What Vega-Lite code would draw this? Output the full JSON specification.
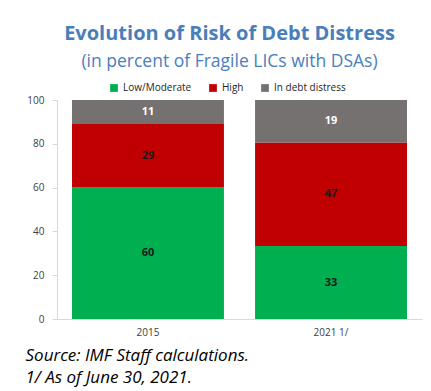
{
  "$schema": "https://vega.github.io/schema/vega-lite/v6.json",
  "autosize": {"type": "none"},
  "width": 365,
  "height": 219,
  "padding": {"left": 57, "top": 100, "right": 9, "bottom": 72},
  "background": "white",
  "title": {
    "text": "Evolution of Risk of Debt Distress",
    "subtitle": "(in percent of Fragile LICs with DSAs)",
    "anchor": "middle",
    "frame": "group",
    "dx": -10,
    "font": "Open Sans",
    "fontSize": 20,
    "fontWeight": "bold",
    "color": "#4a7ebb",
    "subtitleFont": "Open Sans",
    "subtitleFontSize": 17.5,
    "subtitleColor": "#4a7ebb",
    "subtitlePadding": 9,
    "offset": 13
  },
  "data": {
    "values": [
      {"year": "2015", "risk": "Low/Moderate", "rank": 1, "value": 60},
      {"year": "2015", "risk": "High", "rank": 2, "value": 29},
      {"year": "2015", "risk": "In debt distress", "rank": 3, "value": 11},
      {"year": "2021 1/", "risk": "Low/Moderate", "rank": 1, "value": 33.3},
      {"year": "2021 1/", "risk": "High", "rank": 2, "value": 47.3},
      {"year": "2021 1/", "risk": "In debt distress", "rank": 3, "value": 19.4}
    ]
  },
  "encoding": {
    "x": {
      "field": "year",
      "type": "nominal",
      "scale": {"paddingInner": 0.17, "paddingOuter": 0.082},
      "axis": {
        "labelAngle": 0,
        "labelFont": "Open Sans",
        "labelFontSize": 10,
        "labelColor": "#404040",
        "labelPadding": 8,
        "ticks": false,
        "domainColor": "#d9d9d9",
        "title": ["Source: IMF Staff calculations.", "1/ As of June 30, 2021."],
        "titleFont": "Open Sans",
        "titleFontSize": 17,
        "titleFontStyle": "italic",
        "titleFontWeight": "normal",
        "titleColor": "#000000",
        "titleAnchor": "start",
        "titleAlign": "left",
        "titleBaseline": "top",
        "titleLineHeight": 22,
        "titleX": -32,
        "titleY": 28
      }
    },
    "order": {"field": "rank", "type": "quantitative"}
  },
  "layer": [
    {
      "mark": {"type": "bar"},
      "encoding": {
        "y": {
          "field": "value",
          "type": "quantitative",
          "stack": "zero",
          "scale": {"domain": [0, 100]},
          "axis": {
            "values": [0, 20, 40, 60, 80, 100],
            "grid": false,
            "title": null,
            "labelFont": "Open Sans",
            "labelFontSize": 10,
            "labelColor": "#404040",
            "domainColor": "#d9d9d9",
            "tickColor": "#d9d9d9",
            "tickSize": 5,
            "labelPadding": 8
          }
        },
        "color": {
          "field": "risk",
          "type": "nominal",
          "scale": {
            "domain": ["Low/Moderate", "High", "In debt distress"],
            "range": ["#00b050", "#c00000", "#767171"]
          },
          "legend": {
            "orient": "none",
            "legendX": 52,
            "legendY": -17,
            "direction": "horizontal",
            "title": null,
            "symbolType": "square",
            "symbolSize": 60,
            "symbolStrokeWidth": 0,
            "labelFont": "Open Sans",
            "labelFontSize": 10,
            "labelColor": "#262626",
            "columnPadding": 16
          }
        }
      }
    },
    {
      "mark": {"type": "text", "font": "Open Sans", "fontSize": 11, "fontWeight": "bold", "baseline": "middle"},
      "encoding": {
        "y": {"field": "value", "type": "quantitative", "stack": "zero", "bandPosition": 0.5},
        "detail": {"field": "risk"},
        "text": {"field": "value", "type": "quantitative", "format": ".0f"},
        "color": {
          "condition": {"test": "datum.risk === 'In debt distress'", "value": "white"},
          "value": "#1a1a1a"
        }
      }
    }
  ],
  "config": {"view": {"stroke": null}}
}
